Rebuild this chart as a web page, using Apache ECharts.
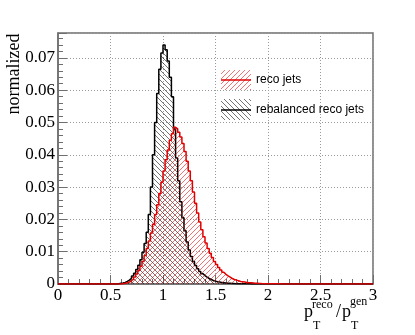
<!DOCTYPE html>
<html>
<head>
<meta charset="utf-8">
<script src="https://cdn.jsdelivr.net/npm/echarts@6/dist/echarts.min.js"></script>
<style>
html, body { margin: 0; padding: 0; background: #fff; }
#chart { width: 415px; height: 335px; }
</style>
</head>
<body>
<div id="chart"></div>
<script>
// 150 bins of width 0.02 from 0 to 3
var binWidth = 0.02;

var recoJets = [
    0, 0, 0, 0, 0, 0, 0, 0, 0, 0,
    0, 0, 0, 0, 0, 0, 0, 0, 0, 0,
    0, 0, 0, 0, 0, 0, 0, 0, 0, 0,
    0.0001, 0.0002, 0.0004, 0.0006, 0.001, 0.0015, 0.0022, 0.0031, 0.0042, 0.0055,
    0.007, 0.0088, 0.011, 0.0133, 0.0158, 0.0185, 0.0215, 0.0245, 0.028, 0.0315,
    0.035, 0.0385, 0.0415, 0.0445, 0.0465, 0.0485, 0.048, 0.047, 0.0455, 0.0435,
    0.041, 0.038, 0.035, 0.032, 0.0285, 0.025, 0.022, 0.0192, 0.0168, 0.0146,
    0.0127, 0.011, 0.0095, 0.0082, 0.007, 0.006, 0.0051, 0.0043, 0.0036, 0.003,
    0.0025, 0.0021, 0.0017, 0.0014, 0.0012, 0.001, 0.0008, 0.0007, 0.0006, 0.0005,
    0.0004, 0.00035, 0.0003, 0.00025, 0.0002, 0.00015, 0.00012, 0.0001, 0.00006, 0.00006,
    0.00006, 0.00006, 0.00006, 0.00006, 0.00006, 0.00006, 0, 0, 0, 0,
    0, 0, 0, 0, 0, 0, 0, 0, 0, 0,
    0, 0, 0, 0, 0, 0, 0, 0, 0, 0,
    0, 0, 0, 0, 0, 0, 0, 0, 0, 0,
    0, 0, 0, 0, 0, 0, 0, 0, 0, 0
];

var rebalancedJets = [
    0, 0, 0, 0, 0, 0, 0, 0, 0, 0,
    0, 0, 0, 0, 0, 0, 0, 0, 0, 0,
    0, 0, 0, 0, 0, 0, 0, 0, 0.0001, 0.0002,
    0.0003, 0.0005, 0.0008, 0.0012, 0.0018, 0.0025, 0.0033, 0.0045, 0.0058, 0.0075,
    0.0098, 0.0125, 0.016, 0.0215, 0.03, 0.04, 0.05, 0.059, 0.0665, 0.0715,
    0.074, 0.0725, 0.069, 0.064, 0.058, 0.048, 0.039, 0.032, 0.0255, 0.0205,
    0.0165, 0.013, 0.0105, 0.0085, 0.007, 0.0057, 0.0047, 0.0039, 0.0032, 0.0026,
    0.0021, 0.0017, 0.0014, 0.0011, 0.0009, 0.0007, 0.0006, 0.0005, 0.0004, 0.0003,
    0.00025, 0.0002, 0.00015, 0.00012, 0.0001, 0.00008, 0.00005, 0.00005, 0.00005, 0.00005,
    0.00005, 0, 0, 0, 0, 0, 0, 0, 0, 0,
    0, 0, 0, 0, 0, 0, 0, 0, 0, 0,
    0, 0, 0, 0, 0, 0, 0, 0, 0, 0,
    0, 0, 0, 0, 0, 0, 0, 0, 0, 0,
    0, 0, 0, 0, 0, 0, 0, 0, 0, 0,
    0, 0, 0, 0, 0, 0, 0, 0, 0, 0
];

var seriesNames = ['reco jets', 'rebalanced reco jets'];
var xTickLabels = ['0', '0.5', '1', '1.5', '2', '2.5', '3'];
var yTickLabels = ['0', '0.01', '0.02', '0.03', '0.04', '0.05', '0.06', '0.07'];

function stepPoints(vals) {
    var pts = [];
    for (var i = 0; i < vals.length; i++) {
        pts.push([i * binWidth, vals[i]]);
        pts.push([(i + 1) * binWidth, vals[i]]);
    }
    return pts;
}

// hatch pattern, dir 1 = '/', -1 = '\'
function hatch(color, dir) {
    var n = 5;
    var c = document.createElement('canvas');
    c.width = n;
    c.height = n;
    var ctx = c.getContext('2d');
    ctx.strokeStyle = color;
    ctx.lineWidth = 1;
    ctx.beginPath();
    if (dir > 0) {
        ctx.moveTo(-1, n + 1); ctx.lineTo(n + 1, -1);
        ctx.moveTo(-1, 1); ctx.lineTo(1, -1);
        ctx.moveTo(n - 1, n + 1); ctx.lineTo(n + 1, n - 1);
    } else {
        ctx.moveTo(-1, -1); ctx.lineTo(n + 1, n + 1);
        ctx.moveTo(n - 1, -1); ctx.lineTo(n + 1, 1);
        ctx.moveTo(-1, n - 1); ctx.lineTo(1, n + 1);
    }
    ctx.stroke();
    return {image: c, repeat: 'repeat'};
}

var redHatch = hatch('rgba(230,0,0,0.55)', 1);
var blackHatch = hatch('rgba(0,0,0,0.55)', -1);

var serif = 'Liberation Serif';
var axisGray = '#6e6e6e';

var myChart = echarts.init(document.getElementById('chart'), null, {renderer: 'canvas'});
myChart.setOption({
    animation: false,
    grid: {
        left: 58, top: 33, right: 42, bottom: 51,
        show: true, borderColor: axisGray, borderWidth: 1.5,
        outerBoundsMode: 'none'
    },
    xAxis: {
        type: 'value',
        min: 0, max: 3, interval: 0.5,
        axisLine: {lineStyle: {color: axisGray, width: 1.5}},
        axisTick: {inside: true, length: 9, lineStyle: {color: axisGray}},
        minorTick: {show: true, splitNumber: 5, length: 5, lineStyle: {color: axisGray}},
        axisLabel: {
            color: '#000', fontFamily: serif, fontSize: 17, margin: 3,
            formatter: function (v) { return xTickLabels[Math.round(v / 0.5)]; }
        },
        splitLine: {show: true, lineStyle: {color: '#9a9a9a', type: [1, 2], width: 1}}
    },
    yAxis: {
        type: 'value',
        min: 0, max: 0.0777, interval: 0.01,
        axisLine: {show: true, lineStyle: {color: axisGray, width: 1.5}},
        axisTick: {show: true, inside: true, length: 9, lineStyle: {color: axisGray}},
        minorTick: {show: true, splitNumber: 5, length: 5, lineStyle: {color: axisGray}},
        axisLabel: {
            color: '#000', fontFamily: serif, fontSize: 17, margin: 3,
            showMaxLabel: false,
            formatter: function (v) {
                var i = Math.round(v / 0.01);
                return Math.abs(v - i * 0.01) < 1e-9 ? yTickLabels[i] : '';
            }
        },
        splitLine: {show: true, lineStyle: {color: '#9a9a9a', type: [1, 2], width: 1}}
    },
    series: [
        {
            name: seriesNames[1],
            type: 'line',
            data: stepPoints(rebalancedJets),
            showSymbol: false,
            symbol: 'none',
            lineStyle: {color: '#000', width: 1.5},
            areaStyle: {color: blackHatch, opacity: 1},
            z: 2
        },
        {
            name: seriesNames[0],
            type: 'line',
            data: stepPoints(recoJets),
            showSymbol: false,
            symbol: 'none',
            lineStyle: {color: '#e00000', width: 1.5},
            areaStyle: {color: redHatch, opacity: 1},
            z: 3
        }
    ],
    graphic: [
        // y title
        {type: 'text', x: 14, y: 74, rotation: Math.PI / 2,
         style: {text: 'normalized', font: '18px "Liberation Serif"', fill: '#000', align: 'center', verticalAlign: 'middle'}},
        // x title p_T^reco / p_T^gen
        {type: 'text', x: 304, y: 312, style: {text: 'p', font: '18px "Liberation Serif"', fill: '#000', verticalAlign: 'middle'}},
        {type: 'text', x: 312, y: 305, style: {text: 'reco', font: '12px "Liberation Serif"', fill: '#000', verticalAlign: 'middle'}},
        {type: 'text', x: 313, y: 326, style: {text: 'T', font: '12px "Liberation Serif"', fill: '#000', verticalAlign: 'middle'}},
        {type: 'text', x: 336, y: 312, style: {text: '/', font: '18px "Liberation Serif"', fill: '#000', verticalAlign: 'middle'}},
        {type: 'text', x: 342, y: 312, style: {text: 'p', font: '18px "Liberation Serif"', fill: '#000', verticalAlign: 'middle'}},
        {type: 'text', x: 350, y: 302, style: {text: 'gen', font: '12px "Liberation Serif"', fill: '#000', verticalAlign: 'middle'}},
        {type: 'text', x: 351, y: 326, style: {text: 'T', font: '12px "Liberation Serif"', fill: '#000', verticalAlign: 'middle'}},
        // legend
        {type: 'rect', shape: {x: 221, y: 70, width: 30, height: 20}, style: {fill: redHatch}, z: 10},
        {type: 'line', shape: {x1: 221, y1: 80, x2: 251, y2: 80}, style: {stroke: '#e00000', lineWidth: 1.5}, z: 11},
        {type: 'text', x: 256, y: 80, style: {text: seriesNames[0], font: '12px "Liberation Sans"', fill: '#000', verticalAlign: 'middle'}, z: 11},
        {type: 'rect', shape: {x: 221, y: 99, width: 30, height: 21}, style: {fill: blackHatch}, z: 10},
        {type: 'line', shape: {x1: 221, y1: 110, x2: 251, y2: 110}, style: {stroke: '#000', lineWidth: 1.5}, z: 11},
        {type: 'text', x: 256, y: 110, style: {text: seriesNames[1], font: '12px "Liberation Sans"', fill: '#000', verticalAlign: 'middle'}, z: 11}
    ]
});
</script>
</body>
</html>
